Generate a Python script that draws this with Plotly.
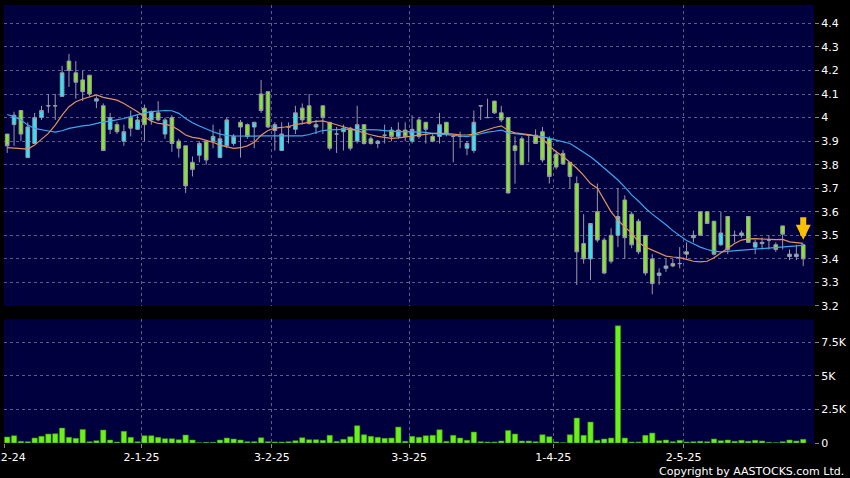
import plotly.graph_objects as go
from plotly.subplots import make_subplots

# ---------------- data ----------------
tick_idx = [0, 20, 39, 59, 80, 99]
tick_text = ["2-12-24", "2-1-25", "3-2-25", "3-3-25", "1-4-25", "2-5-25"]

opens = [3.93, 3.97, 4.03, 3.83, 3.89, 4.00, 4.05, 4.05, 4.09, 4.24,
         4.19, 4.16, 4.18, 4.07, 4.05, 3.95, 3.97, 3.90, 4.00, 3.95,
         4.04, 3.99, 4.02, 3.93, 4.00, 3.90, 3.88, 3.81, 3.84, 3.90,
         3.90, 3.83, 3.88, 3.89, 3.98, 3.97, 3.96, 4.10, 4.11, 3.945,
         3.86, 3.96, 3.95, 4.04, 4.05, 3.96, 4.05, 3.98, 3.93, 3.94,
         3.955, 3.90, 3.97, 3.91, 3.89, 3.925, 3.947, 3.92, 3.947, 3.90,
         3.99, 3.98, 3.92, 3.92, 3.98, 3.92, 3.92, 3.87, 3.86, 4.05,
         4.00, 4.07, 4.02, 4.00, 3.88, 3.91, 3.925, 3.925, 3.94, 3.91,
         3.845, 3.848, 3.81, 3.72, 3.465, 3.40, 3.60, 3.48, 3.50, 3.50,
         3.65, 3.59, 3.56, 3.50, 3.40, 3.33, 3.36, 3.38, 3.38, 3.43,
         3.49, 3.60, 3.60, 3.56, 3.46, 3.58, 3.50, 3.50, 3.58, 3.45,
         3.465, 3.48, 3.46, 3.54, 3.41, 3.41, 3.46]
highs = [3.93, 4.025, 4.03, 3.98, 4.02, 4.05, 4.10, 4.10, 4.22, 4.27,
         4.24, 4.20, 4.18, 4.09, 4.06, 4.02, 3.98, 3.97, 4.03, 4.01,
         4.055, 4.03, 4.07, 4.00, 4.01, 3.91, 3.88, 3.835, 3.90, 3.90,
         3.97, 3.95, 4.00, 3.93, 3.99, 3.975, 3.98, 4.16, 4.11, 3.98,
         3.98, 3.98, 4.05, 4.06, 4.10, 3.99, 4.05, 3.98, 3.96, 3.97,
         3.96, 4.05, 3.97, 3.92, 3.905, 3.97, 3.96, 3.98, 3.98, 4.01,
         4.00, 3.98, 3.93, 4.02, 3.98, 3.925, 3.94, 3.90, 4.03, 4.05,
         4.08, 4.07, 4.05, 4.00, 3.92, 3.92, 3.93, 3.95, 3.96, 3.92,
         3.86, 3.862, 3.81, 3.75, 3.59, 3.55, 3.72, 3.49, 3.53, 3.70,
         3.67, 3.60, 3.57, 3.50, 3.42, 3.36, 3.40, 3.40, 3.45, 3.47,
         3.52, 3.60, 3.60, 3.56, 3.60, 3.58, 3.52, 3.52, 3.58, 3.48,
         3.49, 3.50, 3.47, 3.54, 3.44, 3.46, 3.46]
lows = [3.85, 3.88, 3.90, 3.83, 3.89, 3.99, 4.02, 3.99, 4.09, 4.13,
        4.08, 4.07, 4.09, 4.04, 3.86, 3.93, 3.93, 3.88, 3.92, 3.95,
        3.90, 3.97, 3.985, 3.91, 3.855, 3.83, 3.68, 3.75, 3.81, 3.80,
        3.87, 3.83, 3.87, 3.88, 3.83, 3.91, 3.87, 4.02, 3.955, 3.86,
        3.86, 3.89, 3.93, 3.97, 3.97, 3.93, 3.93, 3.86, 3.85, 3.86,
        3.86, 3.89, 3.885, 3.885, 3.87, 3.89, 3.90, 3.91, 3.90, 3.89,
        3.91, 3.89, 3.895, 3.89, 3.92, 3.81, 3.87, 3.84, 3.85, 3.99,
        4.00, 4.015, 3.98, 3.678, 3.72, 3.80, 3.81, 3.89, 3.81, 3.72,
        3.78, 3.80, 3.70, 3.29, 3.38, 3.31, 3.47, 3.335, 3.38, 3.45,
        3.40, 3.445, 3.42, 3.33, 3.25, 3.29, 3.345, 3.365, 3.36, 3.40,
        3.47, 3.50, 3.55, 3.415, 3.455, 3.42, 3.47, 3.49, 3.47, 3.42,
        3.44, 3.44, 3.43, 3.44, 3.395, 3.395, 3.37]
closes = [3.88, 4.01, 3.93, 3.96, 4.00, 4.03, 4.05, 4.05, 4.19, 4.20,
          4.15, 4.11, 4.10, 4.08, 3.86, 4.00, 3.94, 3.94, 3.955, 3.99,
          3.97, 4.025, 3.99, 3.99, 3.89, 3.87, 3.71, 3.78, 3.89, 3.82,
          3.92, 3.91, 3.99, 3.92, 3.96, 3.92, 3.98, 4.03, 3.96, 3.97,
          3.93, 3.96, 4.02, 3.99, 3.975, 3.97, 4.00, 3.87, 3.93, 3.955,
          3.87, 3.97, 3.89, 3.89, 3.90, 3.925, 3.92, 3.947, 3.92, 3.95,
          3.92, 3.95, 3.90, 3.97, 3.93, 3.92, 3.92, 3.89, 3.98, 4.05,
          4.00, 4.02, 3.99, 3.68, 3.86, 3.80, 3.925, 3.89, 3.82, 3.75,
          3.79, 3.803, 3.75, 3.43, 3.40, 3.55, 3.48, 3.34, 3.39, 3.58,
          3.49, 3.46, 3.43, 3.34, 3.295, 3.34, 3.37, 3.37, 3.38, 3.42,
          3.50, 3.50, 3.55, 3.42, 3.51, 3.44, 3.50, 3.51, 3.47, 3.47,
          3.47, 3.48, 3.44, 3.505, 3.42, 3.42, 3.40]
ma_short = [3.872, 3.869, 3.868, 3.866, 3.883, 3.907, 3.933, 3.968, 4.010, 4.046,
            4.067, 4.079, 4.086, 4.096, 4.086, 4.079, 4.074, 4.060, 4.043, 4.025,
            4.004, 3.985, 3.975, 3.972, 3.964, 3.947, 3.926, 3.916, 3.912, 3.905,
            3.895, 3.883, 3.875, 3.869, 3.872, 3.880, 3.895, 3.925, 3.945, 3.955,
            3.958, 3.962, 3.970, 3.976, 3.980, 3.984, 3.986, 3.978, 3.968, 3.961,
            3.952, 3.943, 3.935, 3.927, 3.920, 3.916, 3.912, 3.914, 3.918, 3.922,
            3.926, 3.930, 3.933, 3.934, 3.933, 3.930, 3.927, 3.926, 3.930, 3.940,
            3.950, 3.958, 3.965, 3.945, 3.935, 3.932, 3.928, 3.922, 3.910, 3.880,
            3.855, 3.835, 3.810, 3.785, 3.755, 3.720, 3.700, 3.650, 3.600, 3.565,
            3.535, 3.510, 3.470, 3.450, 3.437, 3.425, 3.412, 3.408, 3.405, 3.398,
            3.390, 3.387, 3.390, 3.405, 3.425, 3.448, 3.465, 3.480, 3.485, 3.486,
            3.486, 3.483, 3.482, 3.483, 3.472, 3.468, 3.466]
ma_long = [4.013, 4.004, 3.990, 3.968, 3.954, 3.947, 3.943, 3.938, 3.944, 3.954,
           3.961, 3.965, 3.968, 3.975, 3.982, 3.985, 3.990, 3.996, 4.004, 4.013,
           4.020, 4.025, 4.029, 4.030, 4.029, 4.018, 3.996, 3.978, 3.964, 3.951,
           3.940, 3.930, 3.924, 3.922, 3.921, 3.921, 3.921, 3.922, 3.922, 3.921,
           3.921, 3.921, 3.921, 3.922, 3.928, 3.938, 3.945, 3.948, 3.950, 3.950,
           3.950, 3.950, 3.950, 3.950, 3.948, 3.945, 3.942, 3.940, 3.940, 3.940,
           3.940, 3.937, 3.933, 3.930, 3.926, 3.923, 3.920, 3.919, 3.925, 3.933,
           3.938, 3.942, 3.947, 3.935, 3.932, 3.930, 3.927, 3.923, 3.919, 3.912,
           3.905, 3.897, 3.890, 3.872, 3.852, 3.834, 3.810, 3.785, 3.760, 3.735,
           3.705, 3.672, 3.645, 3.615, 3.590, 3.568, 3.545, 3.520, 3.497, 3.478,
           3.464, 3.450, 3.440, 3.433, 3.430, 3.432, 3.435, 3.438, 3.440, 3.442,
           3.444, 3.445, 3.446, 3.450, 3.452, 3.455, 3.458]
volume = [445, 545, 125, 100, 370, 495, 667, 690, 1110, 420,
          345, 1013, 100, 173, 963, 222, 74, 865, 420, 100,
          545, 545, 420, 321, 321, 247, 593, 222, 25, 50,
          50, 222, 370, 296, 222, 100, 100, 395, 100, 74,
          74, 100, 173, 395, 247, 247, 198, 568, 124, 272,
          470, 1284, 618, 494, 420, 346, 370, 1186, 124, 494,
          420, 543, 568, 988, 124, 568, 370, 198, 815, 100,
          74, 74, 148, 939, 667, 148, 148, 100, 618, 470,
          74, 25, 618, 1853, 568, 1556, 198, 296, 370, 8720,
          370, 74, 74, 568, 741, 173, 222, 100, 198, 74,
          100, 124, 100, 296, 173, 222, 124, 198, 124, 198,
          148, 50, 25, 100, 222, 148, 272]

price_ticks = [3.2, 3.3, 3.4, 3.5, 3.6, 3.7, 3.8, 3.9, 4.0, 4.1, 4.2, 4.3, 4.4]
price_tick_text = ["3.2", "3.3", "3.4", "3.5", "3.6", "3.7", "3.8", "3.9",
                   "4", "4.1", "4.2", "4.3", "4.4"]
vol_ticks = [0, 2500, 5000, 7500]
vol_tick_text = ["0", "2.5K", "5K", "7.5K"]

# ---------------- figure ----------------
idx = list(range(len(closes)))
tick_pos = [t - 0.43 for t in tick_idx]

fig = make_subplots(rows=2, cols=1, shared_xaxes=True)

fig.add_trace(go.Candlestick(
    x=idx, open=opens, high=highs, low=lows, close=closes,
    increasing=dict(fillcolor="#2fe4f4", line=dict(color="#9a9aa8", width=1)),
    decreasing=dict(fillcolor="#86e52c", line=dict(color="#9a9aa8", width=1)),
    whiskerwidth=0, hoverinfo="skip", showlegend=False), row=1, col=1)

fig.add_trace(go.Scatter(x=idx, y=ma_long, mode="lines",
                         line=dict(color="#3aa8ee", width=1.2),
                         hoverinfo="skip", showlegend=False), row=1, col=1)
fig.add_trace(go.Scatter(x=idx, y=ma_short, mode="lines",
                         line=dict(color="#e0925c", width=1.2),
                         hoverinfo="skip", showlegend=False), row=1, col=1)

fig.add_trace(go.Bar(x=idx, y=volume, marker=dict(color="#6cf01c",
                     line=dict(color="#3c8c12", width=0.6)),
                     hoverinfo="skip", showlegend=False), row=2, col=1)

grid_col = "#5c5c8c"
xr = [-0.466, 117.57]
common_x = dict(range=xr, tickmode="array", tickvals=tick_pos, showgrid=True,
                gridcolor=grid_col, griddash="3px,3px", gridwidth=1,
                zeroline=False, showline=False, rangeslider=dict(visible=False))
fig.update_layout(
    width=850, height=478,
    paper_bgcolor="#000000", plot_bgcolor="#00003f",
    margin=dict(l=4, r=36, t=5, b=35, autoexpand=False),
    bargap=0.22, boxgap=0.24,
    font=dict(family="DejaVu Sans", size=11, color="#ffffff"),
    xaxis=dict(**common_x, showticklabels=False, ticks=""),
    xaxis2=dict(**common_x, ticktext=tick_text, showticklabels=True,
                ticks="outside", ticklen=4, tickcolor="#888888",
                ticklabeloverflow="allow",
                tickfont=dict(size=11, color="#ffffff")),
    yaxis=dict(domain=[0.3128, 1.0], range=[3.2, 4.478], side="right",
               tickmode="array", tickvals=price_ticks, ticktext=price_tick_text,
               ticks="outside", ticklen=4, tickcolor="#888888",
               showgrid=True, gridcolor=grid_col, griddash="3px,3px",
               zeroline=False, showline=False, automargin=False,
               tickfont=dict(size=11, color="#ffffff")),
    yaxis2=dict(domain=[0.0, 0.282], range=[0, 9193], side="right",
                tickmode="array", tickvals=vol_ticks, ticktext=vol_tick_text,
                ticks="outside", ticklen=4, tickcolor="#888888",
                showgrid=True, gridcolor=grid_col, griddash="3px,3px",
                zeroline=False, showline=False, automargin=False,
                tickfont=dict(size=11, color="#ffffff")),
    hovermode=False,
)

# marker arrow on the last candle
fig.add_annotation(x=idx[-1], y=highs[-1], xref="x", yref="y",
                   ax=0, ay=-29, showarrow=True, arrowhead=2, arrowsize=0.5,
                   arrowwidth=6, arrowcolor="#f8c000", standoff=5, text="")

fig.add_annotation(text="Copyright by AASTOCKS.com Ltd.", xref="paper", yref="paper",
                   x=1.0395, y=-0.064, xanchor="right", yanchor="middle",
                   showarrow=False, font=dict(size=11, color="#ffffff"))

fig.write_html("out.html", config={"displayModeBar": False},
               post_script="document.body.style.margin='0px';document.body.style.overflow='hidden';")
